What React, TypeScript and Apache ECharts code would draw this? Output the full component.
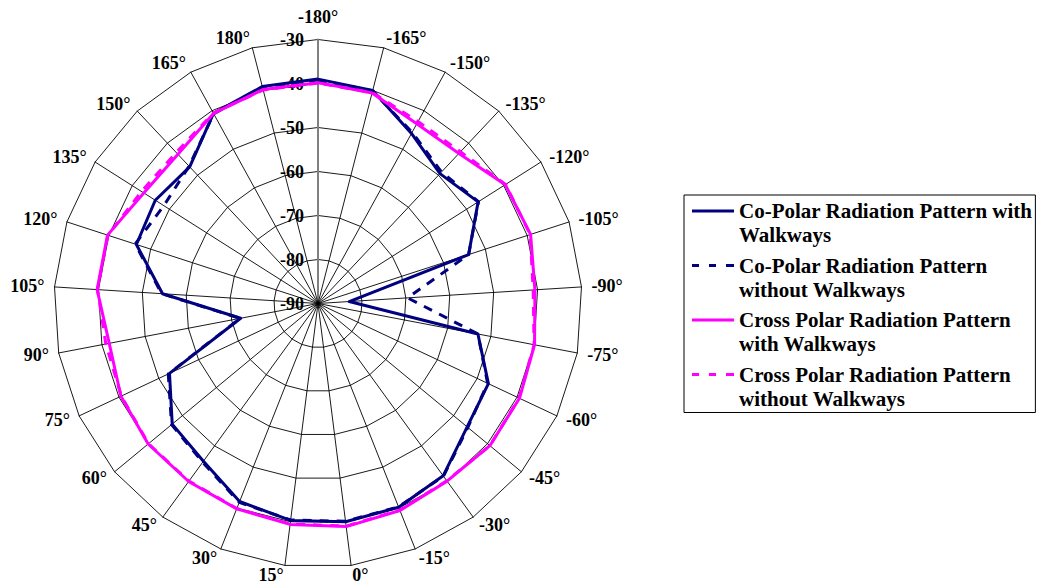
import React, { useEffect, useRef } from 'react';
import * as echarts from 'echarts';

// Angle labels, clockwise from the top spoke
const angleLabels = [
  '-180°', '-165°', '-150°', '-135°', '-120°', '-105°', '-90°', '-75°', '-60°', '-45°', '-30°', '-15°',
  '0°', '15°', '30°', '45°', '60°', '75°', '90°', '105°', '120°', '135°', '150°', '165°', '180°',
];

// Radial scale (dB)
const radialMin = -90;
const radialMax = -30;
const radialSplits = 6;

// Series values (dB), same order as angleLabels
const coPolarWith = [
  -39.0, -40.0, -45.9, -49.5, -46.9, -54.0, -82.9, -53.0, -47.2, -46.0, -41.6, -40.2,
  -40.0, -40.3, -41.6, -45.7, -47.0, -52.7, -72.1, -54.6, -46.6, -46.2, -47.4, -40.7, -39.1,
];
const coPolarWithout = [
  -39.2, -40.1, -45.6, -49.0, -46.8, -54.0, -69.6, -53.0, -47.4, -45.8, -41.5, -40.3,
  -40.1, -40.4, -41.4, -45.4, -46.8, -52.4, -72.0, -54.4, -46.3, -48.5, -47.2, -40.8, -39.2,
];
const crossPolarWith = [
  -39.8, -40.6, -43.4, -43.2, -39.6, -39.2, -40.6, -39.9, -39.4, -39.3, -40.1, -39.4,
  -38.9, -39.4, -39.8, -40.0, -39.9, -40.5, -41.7, -39.7, -39.7, -43.1, -43.5, -40.7, -39.8,
];
const crossPolarWithout = [
  -39.9, -40.5, -42.8, -42.7, -39.5, -39.3, -41.0, -40.0, -39.5, -39.3, -40.2, -39.5,
  -39.0, -39.5, -39.9, -40.1, -40.0, -40.6, -40.9, -39.8, -39.8, -42.5, -42.9, -40.6, -39.9,
];

const seriesNames = [
  'Co-Polar Radiation Pattern with Walkways',
  'Co-Polar Radiation Pattern without Walkways',
  'Cross Polar Radiation Pattern with Walkways',
  'Cross Polar Radiation Pattern without Walkways',
];
const legendLabels = [
  'Co-Polar Radiation Pattern with\nWalkways',
  'Co-Polar Radiation Pattern\nwithout Walkways',
  'Cross Polar Radiation Pattern\nwith Walkways',
  'Cross Polar Radiation Pattern\nwithout Walkways',
];
const seriesValues = [coPolarWith, coPolarWithout, crossPolarWith, crossPolarWithout];

const NAVY = '#000080';
const MAGENTA = '#FF00FF';
const seriesColors = [NAVY, NAVY, MAGENTA, MAGENTA];
const seriesDashed = [false, true, false, true];

const FONT = "'Times New Roman', 'Liberation Serif', serif";

const solidIcon = 'path://M0,0L0,0M0,10.5L42,10.5L42,13.5L0,13.5ZM42,48L42,48';
const dashedIcon =
  'path://M0,0L0,0M0,10.5L7,10.5L7,13.5L0,13.5ZM17,10.5L24,10.5L24,13.5L17,13.5ZM34,10.5L42,10.5L42,13.5L34,13.5ZM42,48L42,48';

export default function App() {
  const ref = useRef<HTMLDivElement>(null);

  useEffect(() => {
    if (!ref.current) return;
    const chart = echarts.init(ref.current, undefined, { renderer: 'svg' });

    const n = angleLabels.length;
    // ECharts radar runs counter-clockwise; map to clockwise order of the reference
    const order = Array.from({ length: n }, (_, k) => (n - k) % n);

    const nameStyle = {
      color: '#000',
      fontFamily: FONT,
      fontWeight: 'bold',
      fontSize: 18,
    };

    const indicator = order.map((idx, k) => {
      const base: any = {
        name: angleLabels[idx],
        min: radialMin,
        max: radialMax,
        nameTextStyle: { ...nameStyle },
      };
      if (k === 0) {
        base.nameGap = 14;
        base.axisLine = { show: true, lineStyle: { color: '#808080', width: 2 } };
        base.axisLabel = {
          show: true,
          color: '#000',
          fontFamily: FONT,
          fontWeight: 'bold',
          fontSize: 18,
          margin: 14,
        };
      }
      return base;
    });

    const legendMap: Record<string, string> = {};
    seriesNames.forEach((s, i) => (legendMap[s] = legendLabels[i]));

    chart.setOption({
      animation: false,
      backgroundColor: '#fff',
      radar: {
        center: [318, 303.5],
        radius: 264,
        startAngle: 90,
        splitNumber: radialSplits,
        shape: 'polygon',
        nameGap: 10,
        axisName: { ...nameStyle },
        axisLine: { show: true, lineStyle: { color: '#000', width: 0.9 } },
        splitLine: { show: true, lineStyle: { color: '#000', width: 0.9 } },
        splitArea: { show: false },
        axisTick: { show: false },
        axisLabel: { show: false },
        indicator,
      },
      legend: {
        orient: 'vertical',
        left: 684,
        top: 195,
        padding: [4, 3, 2, 8],
        itemGap: 6.5,
        itemWidth: 42,
        itemHeight: 48,
        borderColor: '#000',
        borderWidth: 1,
        selectedMode: false,
        itemStyle: { borderWidth: 0 },
        textStyle: {
          color: '#000',
          fontFamily: FONT,
          fontWeight: 'bold',
          fontSize: 21,
          lineHeight: 24,
        },
        formatter: (name: string) => legendMap[name] || name,
        data: seriesNames.map((name, i) => ({
          name,
          icon: seriesDashed[i] ? dashedIcon : solidIcon,
          itemStyle: { color: seriesColors[i], borderWidth: 0 },
        })),
      },
      series: seriesNames.map((name, i) => ({
        type: 'radar',
        name,
        symbol: 'none',
        silent: true,
        lineStyle: {
          color: seriesColors[i],
          width: 3,
          type: seriesDashed[i] ? [9, 8] : 'solid',
        },
        itemStyle: { color: seriesColors[i] },
        data: [{ name, value: order.map((idx) => seriesValues[i][idx]) }],
      })),
    });

    return () => chart.dispose();
  }, []);

  return (
    <div
      ref={ref}
      style={{ position: 'fixed', left: 0, top: 0, width: 1047, height: 588, background: '#fff' }}
    />
  );
}
